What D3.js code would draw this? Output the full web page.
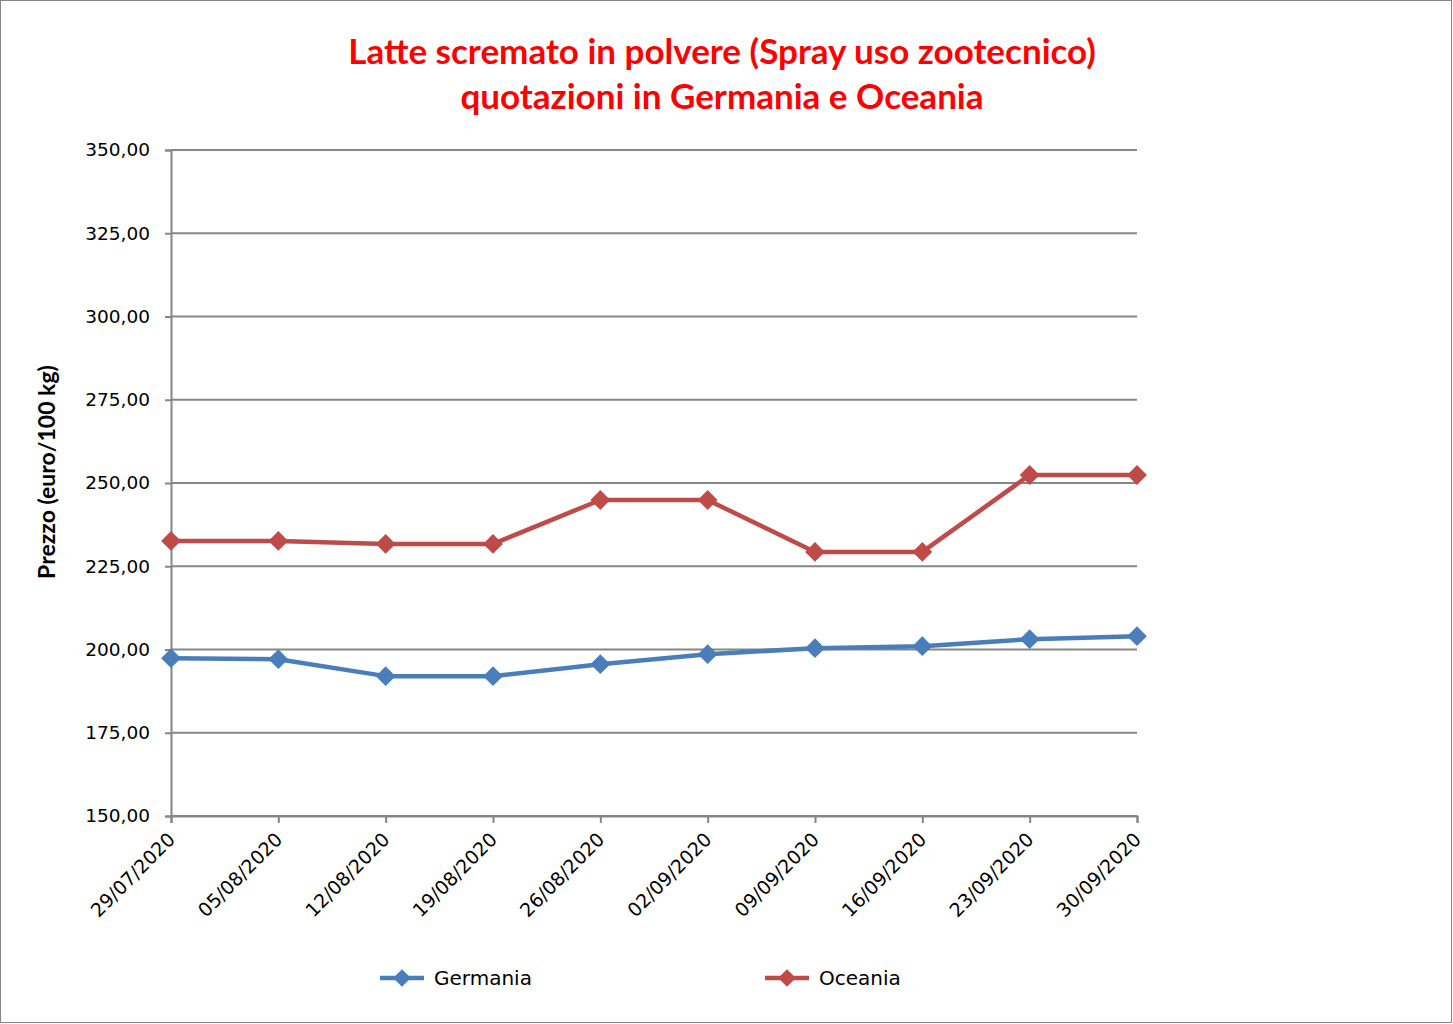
<!DOCTYPE html>
<html><head><meta charset="utf-8">
<script src="https://cdn.jsdelivr.net/npm/d3@7"></script>
<style>body{margin:0;background:#fff}svg{display:block}</style>
</head><body>
<script>
const categories = ["29/07/2020","05/08/2020","12/08/2020","19/08/2020","26/08/2020","02/09/2020","09/09/2020","16/09/2020","23/09/2020","30/09/2020"];
const germania = [197.4,197.1,192.0,192.0,195.6,198.6,200.4,201.0,203.1,204.0];
const oceania = [232.6,232.6,231.7,231.7,244.9,244.9,229.3,229.3,252.4,252.4];
const yTicks = [150,175,200,225,250,275,300,325,350];
const seriesNames = ["Germania","Oceania"];
const colors = ["#4A7EBB","#BE4B48"];

const W=1453,H=1024;
const svg=d3.select("body").append("svg").attr("width",W).attr("height",H);
svg.append("rect").attr("x",0.5).attr("y",0.5).attr("width",W-2).attr("height",H-2).attr("fill","#fff").attr("stroke","#868686");

const L=171,R=1137,T=150,B=816;
const x=d3.scalePoint().domain(categories).range([L,R]).padding(0);
const y=d3.scaleLinear().domain([150,350]).range([B,T]);

// grid
svg.append("g").selectAll("line").data(yTicks).join("line")
 .attr("x1",L).attr("x2",R).attr("y1",d=>y(d)).attr("y2",d=>y(d))
 .attr("stroke","#868686").attr("stroke-width",2);

const fmt=d=>d3.format(".2f")(d).replace(".",",");
const yAxis=svg.append("g").attr("transform",`translate(${L},0)`)
 .call(d3.axisLeft(y).tickValues(yTicks).tickFormat(fmt).tickSize(6).tickPadding(15));
yAxis.select(".domain").attr("stroke","#868686").attr("stroke-width",2);
yAxis.selectAll(".tick line").attr("stroke","#868686").attr("stroke-width",2);
yAxis.selectAll("text").attr("font-family","DejaVu Sans, Verdana, sans-serif").attr("font-size",18.5).attr("fill","#000");

const xAxis=svg.append("g").attr("transform",`translate(0,${B})`)
 .call(d3.axisBottom(x).tickSize(7).tickPadding(6));
xAxis.select(".domain").attr("stroke","#868686").attr("stroke-width",2);
xAxis.selectAll(".tick line").attr("stroke","#868686").attr("stroke-width",2);
xAxis.selectAll("text").attr("font-family","DejaVu Sans, Verdana, sans-serif").attr("font-size",19).attr("fill","#000")
 .attr("text-anchor","end").attr("x",0).attr("y",0).attr("dy","0.35em")
 .attr("transform","translate(0,20) rotate(-45)");

const line=d3.line().x((d,i)=>x(categories[i])).y(d=>y(d));
const diamond=d3.symbol().type(d3.symbolDiamond2).size(250);
[germania,oceania].forEach((s,k)=>{
  svg.append("path").datum(s).attr("d",line).attr("fill","none").attr("stroke",colors[k]).attr("stroke-width",4.5).attr("stroke-linejoin","round");
  svg.append("g").selectAll("path").data(s).join("path")
   .attr("d",diamond).attr("transform",(d,i)=>`translate(${x(categories[i])},${y(d)})`).attr("fill",colors[k]);
});

// title
const title=svg.append("text").attr("text-anchor","middle").attr("font-family","Lato, 'Open Sans', sans-serif")
 .attr("font-weight","bold").attr("font-size",35).attr("fill","#FF0000");
title.append("tspan").attr("x",722).attr("y",64).text("Latte scremato in polvere (Spray uso zootecnico)");
title.append("tspan").attr("x",722).attr("y",109).text("quotazioni in Germania e Oceania");

svg.append("text").attr("transform",`translate(55,${(T+B)/2 - 11}) rotate(-90)`).attr("text-anchor","middle")
 .attr("font-family","Lato, 'Open Sans', sans-serif").attr("font-weight","bold").attr("font-size",23).attr("fill","#000")
 .text("Prezzo (euro/100 kg)");

// legend
const legX=[380,765];
seriesNames.forEach((n,k)=>{
  const g=svg.append("g").attr("transform",`translate(${legX[k]},978)`);
  g.append("line").attr("x1",0).attr("x2",44).attr("stroke",colors[k]).attr("stroke-width",4.5);
  g.append("path").attr("d",d3.symbol().type(d3.symbolDiamond2).size(200)).attr("transform","translate(22,0)").attr("fill",colors[k]);
  g.append("text").attr("x",54).attr("y",0).attr("dy","0.35em").attr("font-family","DejaVu Sans, Verdana, sans-serif").attr("font-size",20).attr("fill","#000").text(n);
});
</script>
</body></html>
